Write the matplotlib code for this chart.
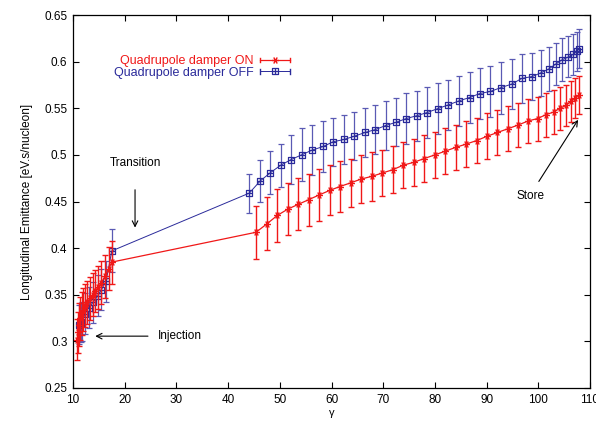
import matplotlib
matplotlib.use("Agg")
import matplotlib.pyplot as plt
from matplotlib.path import Path
from matplotlib.lines import Line2D
from matplotlib.legend_handler import HandlerBase
from matplotlib.ticker import FormatStrFormatter, MultipleLocator

plt.rcParams['font.family'] = ['Liberation Sans', 'DejaVu Sans']

# Quadrupole damper ON (red)
gamma_on = [10.8, 11.0, 11.2, 11.4, 11.7, 12.0, 12.4, 12.8, 13.3, 13.8, 14.3, 14.9,
            15.5, 16.2, 16.9, 17.5,
            45.4, 47.5, 49.5, 51.6, 53.6, 55.6, 57.6, 59.7, 61.6, 63.7, 65.7, 67.8,
            69.8, 71.8, 73.9, 75.9, 77.9, 80.0, 82.0, 84.0, 86.0, 88.1, 90.1, 92.1,
            94.1, 96.1, 98.1, 99.9, 101.4, 103.0, 104.2, 105.4, 106.3, 107.1, 107.8]
emit_on = [0.302, 0.310, 0.318, 0.325, 0.330, 0.334, 0.338, 0.342, 0.346, 0.350, 0.354, 0.358,
           0.363, 0.370, 0.378, 0.385,
           0.417, 0.426, 0.435, 0.442, 0.447, 0.452, 0.457, 0.462, 0.466, 0.470, 0.474, 0.477,
           0.4805, 0.484, 0.489, 0.492, 0.496, 0.500, 0.504, 0.508, 0.5115, 0.5154, 0.520, 0.524,
           0.528, 0.532, 0.5365, 0.539, 0.543, 0.546, 0.550, 0.553, 0.5576, 0.561, 0.564]
err_on = [0.022, 0.022, 0.023, 0.023, 0.023, 0.023, 0.023, 0.023, 0.023, 0.023, 0.023, 0.023,
          0.023, 0.023, 0.023, 0.023,
          0.0285, 0.0285, 0.028, 0.028, 0.028, 0.028, 0.028, 0.027, 0.027, 0.026, 0.026, 0.026,
          0.025, 0.025, 0.025, 0.025, 0.025, 0.0245, 0.0245, 0.0245, 0.0245, 0.0245, 0.0245, 0.024,
          0.024, 0.024, 0.0236, 0.0236, 0.0236, 0.0236, 0.023, 0.022, 0.022, 0.021, 0.0205]

# Quadrupole damper OFF (blue)
gamma_off = [11.2, 11.5, 11.8, 12.3, 13.0, 13.9, 14.8, 15.5, 16.4, 17.5,
             44.1, 46.2, 48.2, 50.2, 52.2, 54.2, 56.2, 58.4, 60.3, 62.4, 64.4, 66.5,
             68.4, 70.5, 72.5, 74.5, 76.5, 78.5, 80.6, 82.6, 84.7, 86.7, 88.7, 90.7,
             92.7, 94.9, 96.8, 98.8, 100.5, 102.0, 103.4, 104.6, 105.8, 106.8, 107.4, 107.9]
emit_off = [0.318, 0.320, 0.321, 0.3296, 0.336, 0.342, 0.349, 0.3556, 0.3645, 0.397,
            0.459, 0.472, 0.481, 0.489, 0.495, 0.500, 0.505, 0.509, 0.514, 0.5165, 0.520, 0.524,
            0.527, 0.5315, 0.535, 0.539, 0.542, 0.5454, 0.5497, 0.5536, 0.558, 0.5615, 0.5658, 0.568,
            0.572, 0.576, 0.582, 0.584, 0.588, 0.592, 0.5975, 0.602, 0.605, 0.608, 0.611, 0.614]
err_off = [0.021, 0.021, 0.021, 0.022, 0.022, 0.022, 0.022, 0.022, 0.022, 0.023,
           0.021, 0.022, 0.023, 0.023, 0.026, 0.0285, 0.027, 0.027, 0.026, 0.026, 0.026, 0.026,
           0.026, 0.026, 0.026, 0.027, 0.027, 0.027, 0.027, 0.027, 0.027, 0.0275, 0.0277, 0.0277,
           0.0277, 0.027, 0.026, 0.025, 0.025, 0.024, 0.023, 0.023, 0.022, 0.022, 0.021, 0.021]

# boxed plus marker like gnuplot point type 12, asterisk like point type 3
M, L, C = Path.MOVETO, Path.LINETO, Path.CLOSEPOLY
boxplus = Path([(-1, -1), (1, -1), (1, 1), (-1, 1), (-1, -1), (0, -1), (0, 1), (-1, 0), (1, 0)],
               [M, L, L, L, C, M, L, M, L])
asterisk = Path([(-1, 0), (1, 0), (-0.5, -0.87), (0.5, 0.87), (-0.5, 0.87), (0.5, -0.87)],
                [M, L, M, L, M, L])

red = '#f01818'
blue = '#2a2a9a'


# gnuplot-like key sample:  |----x----|
class GnuplotKey(HandlerBase):
    def create_artists(self, legend, orig, xdescent, ydescent, width, height, fontsize, trans):
        y = height / 2 - ydescent
        x0, x1 = -xdescent, width - xdescent
        h = 0.25 * height
        line = Line2D([x0, x1], [y, y], color=orig.get_color(), lw=orig.get_linewidth())
        caps = [Line2D([x, x], [y - h, y + h], color=orig.get_color(), lw=1.0) for x in (x0, x1)]
        mark = Line2D([(x0 + x1) / 2], [y], marker=orig.get_marker(), ms=orig.get_markersize(),
                      mew=orig.get_markeredgewidth(), color=orig.get_color(),
                      mfc=orig.get_markerfacecolor(), ls='none')
        arts = [line] + caps + [mark]
        for a in arts:
            a.set_transform(trans)
        return arts


fig = plt.figure(figsize=(5.96, 4.22), dpi=100)
ax = fig.add_axes([73 / 596, 34 / 422, 517 / 596, 373 / 422])

on = ax.errorbar(gamma_on, emit_on, yerr=err_on, color=red, lw=0.9, elinewidth=1.0,
                 ecolor=red, capsize=2.2, capthick=1.0, marker=asterisk, ms=5, mew=1.0,
                 zorder=3)
off = ax.errorbar(gamma_off, emit_off, yerr=err_off, color=blue, lw=0.7, elinewidth=0.9,
                  ecolor='#5a5ab4', capsize=2.2, capthick=0.9, marker=boxplus, ms=4.5, mew=0.9,
                  mfc='none', zorder=2)

ax.set_xlim(10, 110)
ax.set_ylim(0.25, 0.65)
ax.xaxis.set_major_locator(MultipleLocator(10))
ax.yaxis.set_major_locator(MultipleLocator(0.05))
ax.yaxis.set_major_formatter(FormatStrFormatter('%g'))
ax.tick_params(direction='in', top=True, right=True, length=4, width=0.8,
               labelsize=8.5, pad=4)
for s in ax.spines.values():
    s.set_linewidth(0.9)

ax.set_xlabel('γ', fontsize=8, labelpad=2)
ax.set_ylabel('Longitudinal Emittance [eV.s/nucleon]', fontsize=8.5, labelpad=8)

arrow = dict(arrowstyle='->', color='black', lw=0.8, shrinkA=0, shrinkB=0)
ax.text(22.0, 0.4916, 'Transition', ha='center', va='center', fontsize=8.5)
ax.annotate('', xy=(22.0, 0.422), xytext=(22.0, 0.4626), arrowprops=arrow)
ax.text(30.7, 0.3063, 'Injection', ha='center', va='center', fontsize=8.5)
ax.annotate('', xy=(14.3, 0.3056), xytext=(24.5, 0.3056), arrowprops=arrow)
ax.text(98.4, 0.4562, 'Store', ha='center', va='center', fontsize=8.5)
ax.annotate('', xy=(107.7, 0.5376), xytext=(100.1, 0.4715), arrowprops=arrow)

leg = ax.legend([on[0], off[0]], ['Quadrupole damper ON', 'Quadrupole damper OFF'],
                handler_map={Line2D: GnuplotKey()},
                loc='center right', bbox_to_anchor=(290 / 596, 1 - 67 / 422),
                bbox_transform=fig.transFigure, frameon=False, markerfirst=False,
                fontsize=9, handlelength=2.4, handletextpad=0.5, labelspacing=-0.05,
                borderpad=0, borderaxespad=0)
leg.get_texts()[0].set_color(red)
leg.get_texts()[1].set_color(blue)

fig.savefig('out.png', dpi=100)
